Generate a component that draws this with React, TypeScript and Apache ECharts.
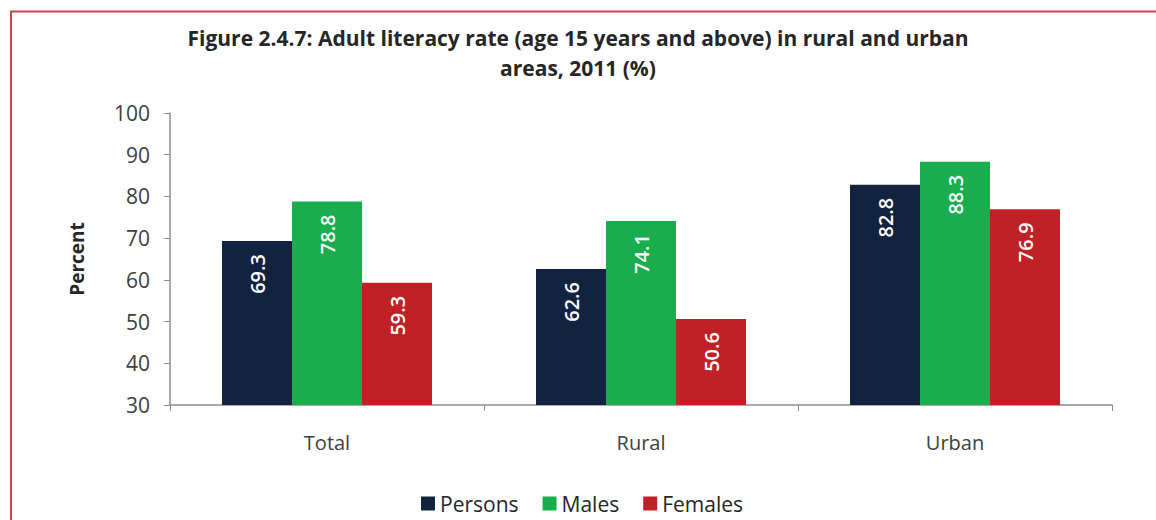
import React, { useEffect, useRef } from "react";
import * as echarts from "echarts";

const categories = ["Total", "Rural", "Urban"];
const persons = [69.3, 62.6, 82.8];
const males = [78.8, 74.1, 88.3];
const females = [59.3, 50.6, 76.9];
const seriesNames = ["Persons", "Males", "Females"];
const titleLines = [
  "Figure 2.4.7: Adult literacy rate (age 15 years and above) in rural and urban",
  "areas, 2011 (%)",
];

const FONT = "'Open Sans', Lato, sans-serif";

export default function App() {
  const ref = useRef<HTMLDivElement>(null);
  useEffect(() => {
    if (!ref.current) return;
    const chart = echarts.init(ref.current, undefined, { renderer: "svg" });
    const label = {
      show: true,
      position: "insideTop" as const,
      rotate: 90,
      align: "right" as const,
      verticalAlign: "middle" as const,
      distance: 13,
      color: "#ffffff",
      fontSize: 20,
      fontWeight: 600,
      fontFamily: FONT,
    };
    const mk = (name: string, data: number[], color: string) => ({
      name,
      type: "bar" as const,
      data,
      barWidth: 70,
      barGap: "0%",
      itemStyle: { color },
      label,
    });
    chart.setOption({
      animation: false,
      backgroundColor: "#ffffff",
      textStyle: { fontFamily: FONT },
      title: {
        text: titleLines.join("\n"),
        left: "center",
        top: 18,
        textStyle: {
          fontSize: 21,
          fontWeight: "bold",
          color: "#262626",
          lineHeight: 30,
          fontFamily: FONT,
        },
      },
      graphic: [
        {
          type: "polyline",
          shape: { points: [[11, 520], [11, 11.5], [1156, 11.5]] },
          style: { stroke: "#C9464E", lineWidth: 2, fill: "none" },
          silent: true,
        },
      ],
      legend: {
        bottom: 1,
        left: 416,
        itemWidth: 14,
        itemHeight: 14,
        itemGap: 24,
        icon: "rect",
        textStyle: { fontSize: 21, color: "#262626", fontFamily: FONT },
        data: seriesNames,
      },
      grid: { left: 170, right: 44, top: 113, bottom: 115 },
      xAxis: {
        type: "category",
        data: categories,
        axisLine: { lineStyle: { color: "#8c8c8c", width: 1.5 } },
        axisTick: { show: true, length: 6, lineStyle: { color: "#8c8c8c" } },
        axisLabel: { fontSize: 20, color: "#404040", margin: 27, fontFamily: FONT },
      },
      yAxis: {
        type: "value",
        min: 30,
        max: 100,
        interval: 10,
        name: "Percent",
        nameLocation: "middle",
        nameGap: 84,
        nameRotate: 90,
        nameTextStyle: { fontSize: 19, fontWeight: "bold", color: "#262626", fontFamily: FONT },
        splitLine: { show: false },
        axisLine: { show: true, lineStyle: { color: "#8c8c8c", width: 1.5 } },
        axisTick: { show: true, length: 6, lineStyle: { color: "#8c8c8c" } },
        axisLabel: { fontSize: 21, color: "#404040", margin: 20, fontFamily: FONT },
      },
      series: [
        mk(seriesNames[0], persons, "#12233F"),
        mk(seriesNames[1], males, "#1AAD4E"),
        mk(seriesNames[2], females, "#C02126"),
      ],
    });
    return () => chart.dispose();
  }, []);
  return (
    <div
      ref={ref}
      style={{ position: "fixed", left: 0, top: 0, width: 1156, height: 520, background: "#fff" }}
    />
  );
}
